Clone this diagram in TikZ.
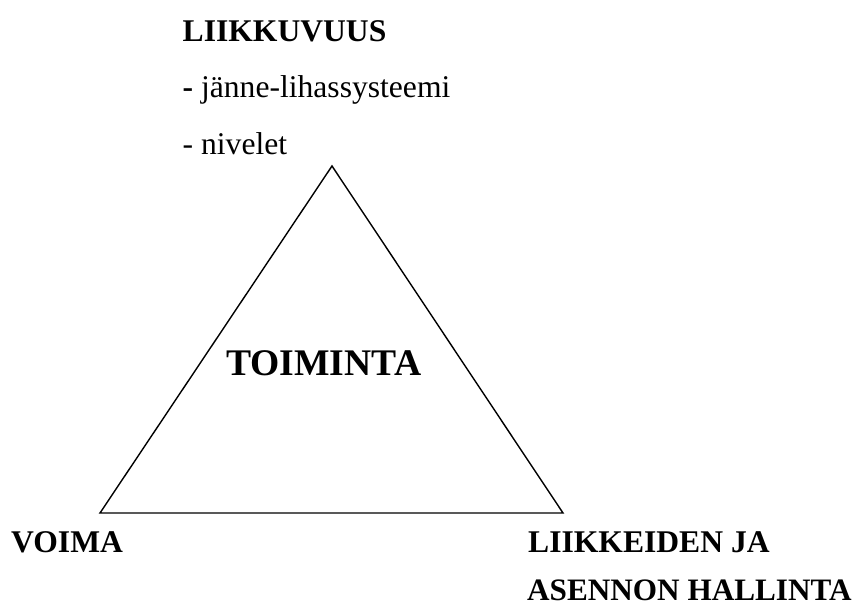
\documentclass[tikz,border=0pt]{standalone}
\usepackage{fontspec}
\setmainfont{Liberation Serif}
\begin{document}
\begin{tikzpicture}[x=1pt,y=-1pt,
  lbl/.style={anchor=base west,inner sep=0pt,font=\fontsize{31.6}{38}\selectfont},
  head/.style={lbl,font=\fontsize{31.6}{38}\selectfont\bfseries},
  big/.style={anchor=base west,inner sep=0pt,font=\fontsize{37.6}{44}\selectfont\bfseries},
  tri/.style={draw=black,line width=1.4pt,line join=miter}]
\useasboundingbox (0,0) rectangle (865,608);
\coordinate (apex) at (332,166);
\coordinate (bl) at (100,513);
\coordinate (br) at (563,513);
\draw[tri] (apex) -- (bl) -- (br) -- cycle;
\node[head] (liik) at (182.5,41) {LIIKKUVUUS};
\node[lbl] (janne) at (182.5,97) {\textbf{-} jänne-lihassysteemi};
\node[lbl] (nivel) at (182.5,154) {- nivelet};
\node[big] (toim) at (226,375) {TOIMINTA};
\node[head] (voima) at (11,552) {VOIMA};
\node[head] (liikk) at (528,552) {LIIKKEIDEN JA};
\node[head,font=\fontsize{31.2}{38}\selectfont\bfseries] (asen) at (527,600) {ASENNON HALLINTA};
\end{tikzpicture}
\end{document}
